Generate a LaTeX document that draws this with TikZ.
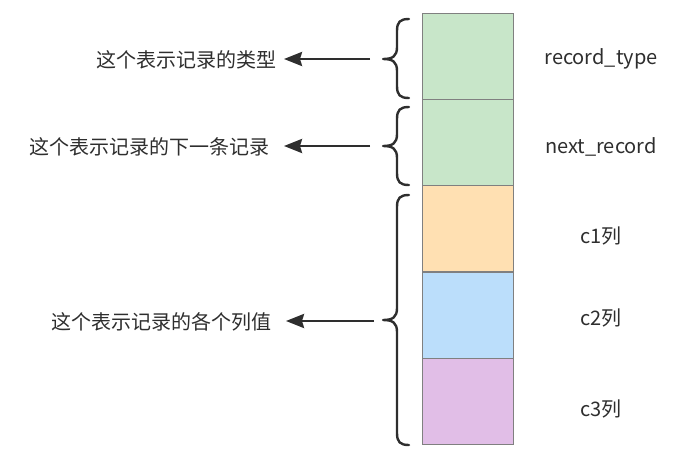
\documentclass[tikz,border=0pt]{standalone}
\usepackage{fontspec}
\setmainfont{Noto Sans CJK SC}
\usetikzlibrary{arrows.meta}
\definecolor{ink}{HTML}{2E2E2E}
\definecolor{edge}{HTML}{808080}
\definecolor{cgreen}{HTML}{C8E6C9}
\definecolor{corange}{HTML}{FFE0B2}
\definecolor{cblue}{HTML}{BBDEFB}
\definecolor{cpurple}{HTML}{E1BEE7}
\begin{document}
\begin{tikzpicture}[x=1pt,y=-1pt,
  cell/.style={draw=edge, line width=1.2pt, minimum width=91pt, minimum height=86.2pt, inner sep=0pt, anchor=north west},
  note/.style={text=ink, font=\fontsize{20}{24}\selectfont, inner sep=0pt},
  fieldname/.style={text=ink, font=\fontsize{20}{24}\selectfont, inner sep=0pt},
  bracepath/.style={draw=ink, line width=2.4pt, line cap=round, line join=round},
  pointer/.style={draw=ink, line width=2.6pt, -{Stealth[length=18pt,width=14pt,inset=2pt]}}]
\useasboundingbox (0,0) rectangle (677,464);

% record cells
\node[cell, fill=cgreen]  (r1) at (422,12.8)  {};
\node[cell, fill=cgreen]  (r2) at (422,99)    {};
\node[cell, fill=corange] (r3) at (422,185.2) {};
\node[cell, fill=cblue]   (r4) at (422,271.4) {};
\node[cell, fill=cpurple] (r5) at (422,357.6) {};

% field names
\node[fieldname] (n1) at (601,59)  {record\_type};
\node[fieldname] (n2) at (601,147) {next\_record};
\node[fieldname] (n3) at (601,236) {c1列};
\node[fieldname] (n4) at (601,318) {c2列};
\node[fieldname] (n5) at (601,409) {c3列};

% curly braces
\newcommand{\curly}[3]{% top y, tip y, bottom y
  \path[bracepath] (409,#1) .. controls (400,#1) and (397,#1+3) .. (397,#1+12)
    -- (397,#2-12) .. controls (397,#2-3) and (393,#2) .. (383,#2)
    .. controls (393,#2) and (397,#2+3) .. (397,#2+12)
    -- (397,#3-12) .. controls (397,#3-3) and (400,#3) .. (409,#3);}
\curly{19}{59}{98}
\curly{107}{146}{185}
\curly{195}{320}{445}

\coordinate (b1) at (370,59);
\coordinate (b2) at (370,146);
\coordinate (b3) at (374,321);

% descriptions
\node[note, anchor=east] (t1) at (277,60)  {这个表示记录的类型};
\node[note, anchor=east] (t2) at (270,147) {这个表示记录的下一条记录};
\node[note, anchor=east] (t3) at (272,322) {这个表示记录的各个列值};

\draw[pointer] (b1) -- ([xshift=7pt]t1.east |- b1);
\draw[pointer] (b2) -- ([xshift=14pt]t2.east |- b2);
\draw[pointer] (b3) -- ([xshift=14pt]t3.east |- b3);
\end{tikzpicture}
\end{document}
